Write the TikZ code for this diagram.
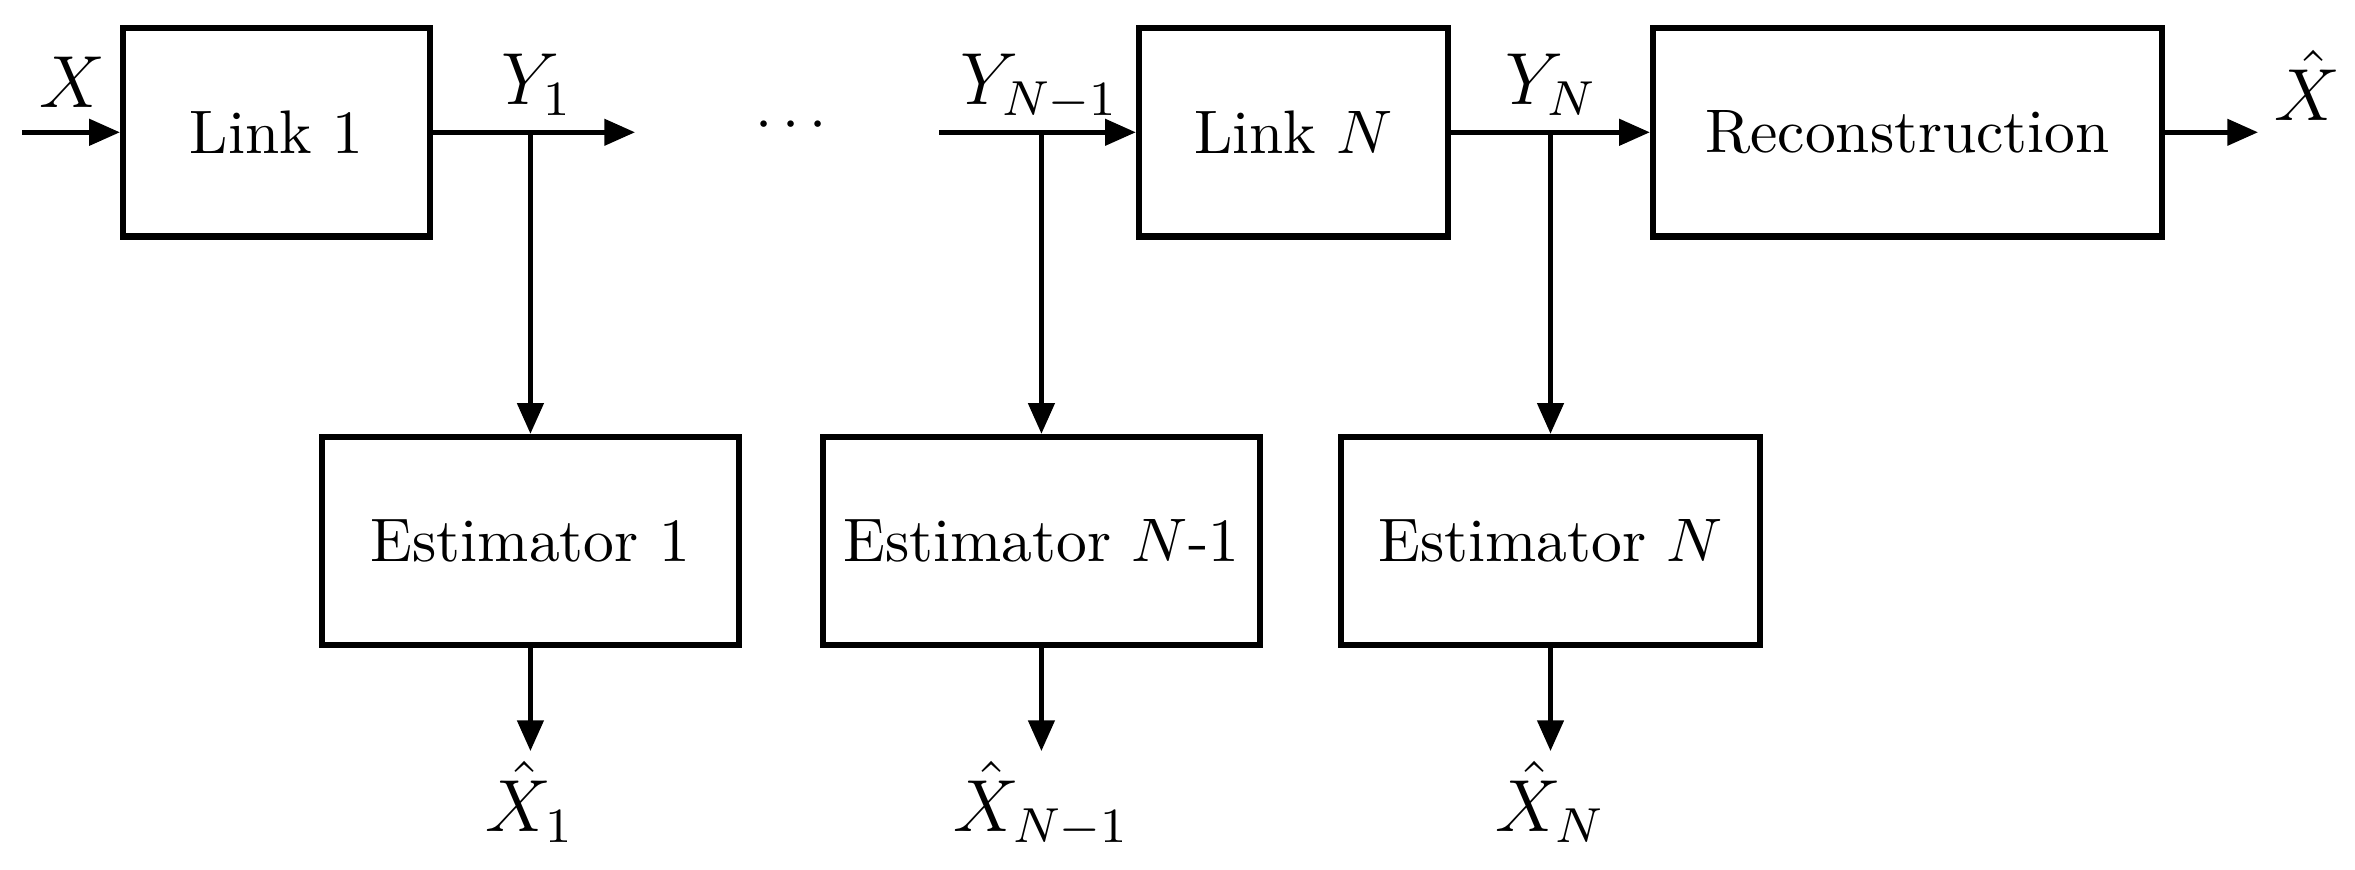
\documentclass[tikz,border=0pt]{standalone}
\usetikzlibrary{arrows.meta}
\begin{document}
\begin{tikzpicture}[auto,
    block/.style ={rectangle, draw, line width=1pt, minimum height=1.19cm},
    signal/.style ={inner sep=0pt, anchor=base, font=\fontsize{11.5}{14}\selectfont},
    flow/.style ={thick, -{Triangle[length=5pt, width=4.2pt]}}]
   \useasboundingbox (0,0) rectangle (13.457,4.966);

   \node[block, minimum width=1.754cm] (link1) at (1.580,4.21) {Link 1};
   \node[block, minimum width=1.766cm] (linkN) at (7.391,4.21) {Link $N$};
   \node[block, minimum width=2.909cm] (recon) at (10.900,4.21) {Reconstruction};
   \node[block, minimum width=2.383cm] (est1)  at (3.031,1.874) {Estimator 1};
   \node[block, minimum width=2.337cm] (estN1) at (5.951,1.874) {Estimator $N$-1};
   \node[block, minimum width=2.394cm] (estN)  at (8.860,1.874) {Estimator $N$};

   \coordinate (in)   at (0.126,4.21);
   \coordinate (out1) at (3.629,4.21);
   \coordinate (inN)  at (5.366,4.21);
   \coordinate (out)  at (12.903,4.21);
   \coordinate (y1)   at (est1 |- link1);
   \coordinate (yN1)  at (estN1 |- link1);
   \coordinate (yN)   at (estN |- link1);
   \coordinate (bot)  at (0,0.674);

   \node[signal] (lX)   at (0.411,4.35)  {$X$};
   \node[signal] (lY1)  at (3.069,4.37)  {$Y_1$};
   \node[signal] (lYN1) at (5.940,4.37)  {$Y_{N-1}$};
   \node[signal] (lYN)  at (8.866,4.37)  {$Y_N$};
   \node[signal] (lXh)  at (13.183,4.28) {$\hat{X}$};
   \node[inner sep=0pt, anchor=base] (dots) at (4.520,4.166) {$\cdots$};

   \node[signal, anchor=north, inner sep=1.5pt] (xh1)  at (est1 |- bot)  {$\hat{X}_1$};
   \node[signal, anchor=north, inner sep=1.5pt] (xhN1) at (estN1 |- bot) {$\hat{X}_{N-1}$};
   \node[signal, anchor=north, inner sep=1.5pt] (xhN)  at (estN |- bot)  {$\hat{X}_N$};

   \draw[flow] (in) to (link1);
   \draw[flow] (link1) to (out1);
   \draw[flow] (y1) to (est1);
   \draw[flow] (est1) to (xh1);
   \draw[flow] (inN) to (linkN);
   \draw[flow] (yN1) to (estN1);
   \draw[flow] (estN1) to (xhN1);
   \draw[flow] (linkN) to (recon);
   \draw[flow] (yN) to (estN);
   \draw[flow] (estN) to (xhN);
   \draw[flow] (recon) to (out);

 \end{tikzpicture}
\end{document}
